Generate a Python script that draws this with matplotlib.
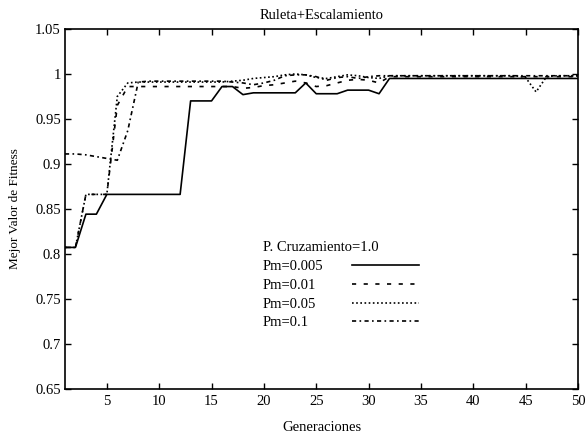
"""Ruleta+Escalamiento: best fitness per generation for several mutation rates."""
import matplotlib
matplotlib.use("Agg")
import matplotlib.pyplot as plt
import numpy as np

plt.rcParams["font.family"] = ["Liberation Serif", "DejaVu Serif"]

generaciones = np.arange(1, 51)

pm_0005 = [0.807, 0.807, 0.844, 0.844, 0.866, 0.866, 0.866, 0.866, 0.866, 0.866,
           0.866, 0.866, 0.970, 0.970, 0.970, 0.986, 0.986, 0.977, 0.979, 0.979,
           0.979, 0.979, 0.979, 0.990, 0.978, 0.978, 0.978, 0.982, 0.982, 0.982,
           0.978, 0.995, 0.995, 0.995, 0.995, 0.995, 0.995, 0.995, 0.995, 0.995,
           0.995, 0.995, 0.995, 0.995, 0.995, 0.995, 0.995, 0.995, 0.995, 0.995]

pm_001 = [0.807, 0.807, 0.866, 0.866, 0.866, 0.965, 0.986, 0.986, 0.986, 0.986,
          0.986, 0.986, 0.986, 0.986, 0.986, 0.986, 0.986, 0.984, 0.985, 0.987,
          0.988, 0.990, 0.992, 0.990, 0.986, 0.987, 0.990, 0.993, 0.994, 0.993,
          0.990, 0.997, 0.997, 0.997, 0.997, 0.997, 0.997, 0.997, 0.997, 0.997,
          0.997, 0.997, 0.997, 0.997, 0.997, 0.997, 0.997, 0.997, 0.997, 0.997]

pm_005 = [0.807, 0.807, 0.866, 0.866, 0.866, 0.975, 0.990, 0.991, 0.991, 0.991,
          0.991, 0.991, 0.991, 0.991, 0.991, 0.991, 0.992, 0.993, 0.995, 0.996,
          0.997, 0.999, 1.000, 0.999, 0.996, 0.995, 0.997, 0.999, 0.998, 0.996,
          0.995, 0.998, 0.998, 0.998, 0.998, 0.998, 0.998, 0.998, 0.998, 0.998,
          0.998, 0.998, 0.998, 0.998, 0.996, 0.980, 0.997, 0.998, 0.998, 0.998]

pm_01 = [0.911, 0.911, 0.910, 0.908, 0.906, 0.904, 0.937, 0.991, 0.992, 0.992,
         0.992, 0.992, 0.992, 0.992, 0.992, 0.992, 0.991, 0.990, 0.988, 0.990,
         0.993, 0.998, 0.999, 0.999, 0.997, 0.993, 0.996, 0.997, 0.995, 0.997,
         0.998, 0.998, 0.998, 0.998, 0.998, 0.998, 0.998, 0.998, 0.998, 0.998,
         0.998, 0.998, 0.998, 0.998, 0.998, 0.998, 0.998, 0.998, 0.998, 0.998]

etiquetas = ["Pm=0.005", "Pm=0.01", "Pm=0.05", "Pm=0.1"]
yticks = [0.65, 0.7, 0.75, 0.8, 0.85, 0.9, 0.95, 1.0, 1.05]
ytick_labels = ["0.65", "0.7", "0.75", "0.8", "0.85", "0.9", "0.95", "1", "1.05"]
xticks = [5, 10, 15, 20, 25, 30, 35, 40, 45, 50]

estilos = ["-", (0, (2.5, 4.5)), (0, (1, 1.5)), (0, (2.5, 2, 1, 2))]

fig = plt.figure(figsize=(5.88, 4.41), dpi=100)
ax = fig.add_axes([0.1105, 0.119, 0.8724, 0.8152])

lineas = []
for serie, etiqueta, estilo in zip([pm_0005, pm_001, pm_005, pm_01], etiquetas, estilos):
    (ln,) = ax.plot(generaciones, serie, color="black", lw=1.2, ls=estilo, label=etiqueta)
    lineas.append(ln)

ax.set_xlim(1, 50)
ax.set_ylim(0.65, 1.05)
ax.set_xticks(xticks)
ax.set_yticks(yticks)
ax.set_yticklabels(ytick_labels)
ax.tick_params(direction="in", top=True, right=True, length=4, width=1,
               labelsize=10.5)
ax.tick_params(axis="x", pad=5)
ax.tick_params(axis="y", pad=3)
for spine in ax.spines.values():
    spine.set_linewidth(1.2)

ax.set_title("Ruleta+Escalamiento", fontsize=10.5, pad=7)
ax.set_xlabel("Generaciones", fontsize=10.5, labelpad=9)
ax.set_ylabel("Mejor Valor de Fitness", fontsize=9.5, labelpad=10)

# gnuplot-style key: labels left-aligned, samples in their own column
comunes = dict(loc="upper left", frameon=False, fontsize=10.5,
               title_fontsize=10.5, alignment="left", labelspacing=0.38,
               borderpad=0, borderaxespad=0)
leg_txt = ax.legend(lineas, etiquetas, bbox_to_anchor=(0.386, 0.409),
                    title="P. Cruzamiento=1.0", handlelength=0,
                    handletextpad=0, **comunes)
for h in leg_txt.legend_handles:
    h.set_visible(False)
ax.add_artist(leg_txt)
ax.legend(lineas, [""] * len(lineas), bbox_to_anchor=(0.559, 0.409),
          title=" ", handlelength=4.6, handletextpad=0, **comunes)

fig.savefig("out.png", dpi=100)
